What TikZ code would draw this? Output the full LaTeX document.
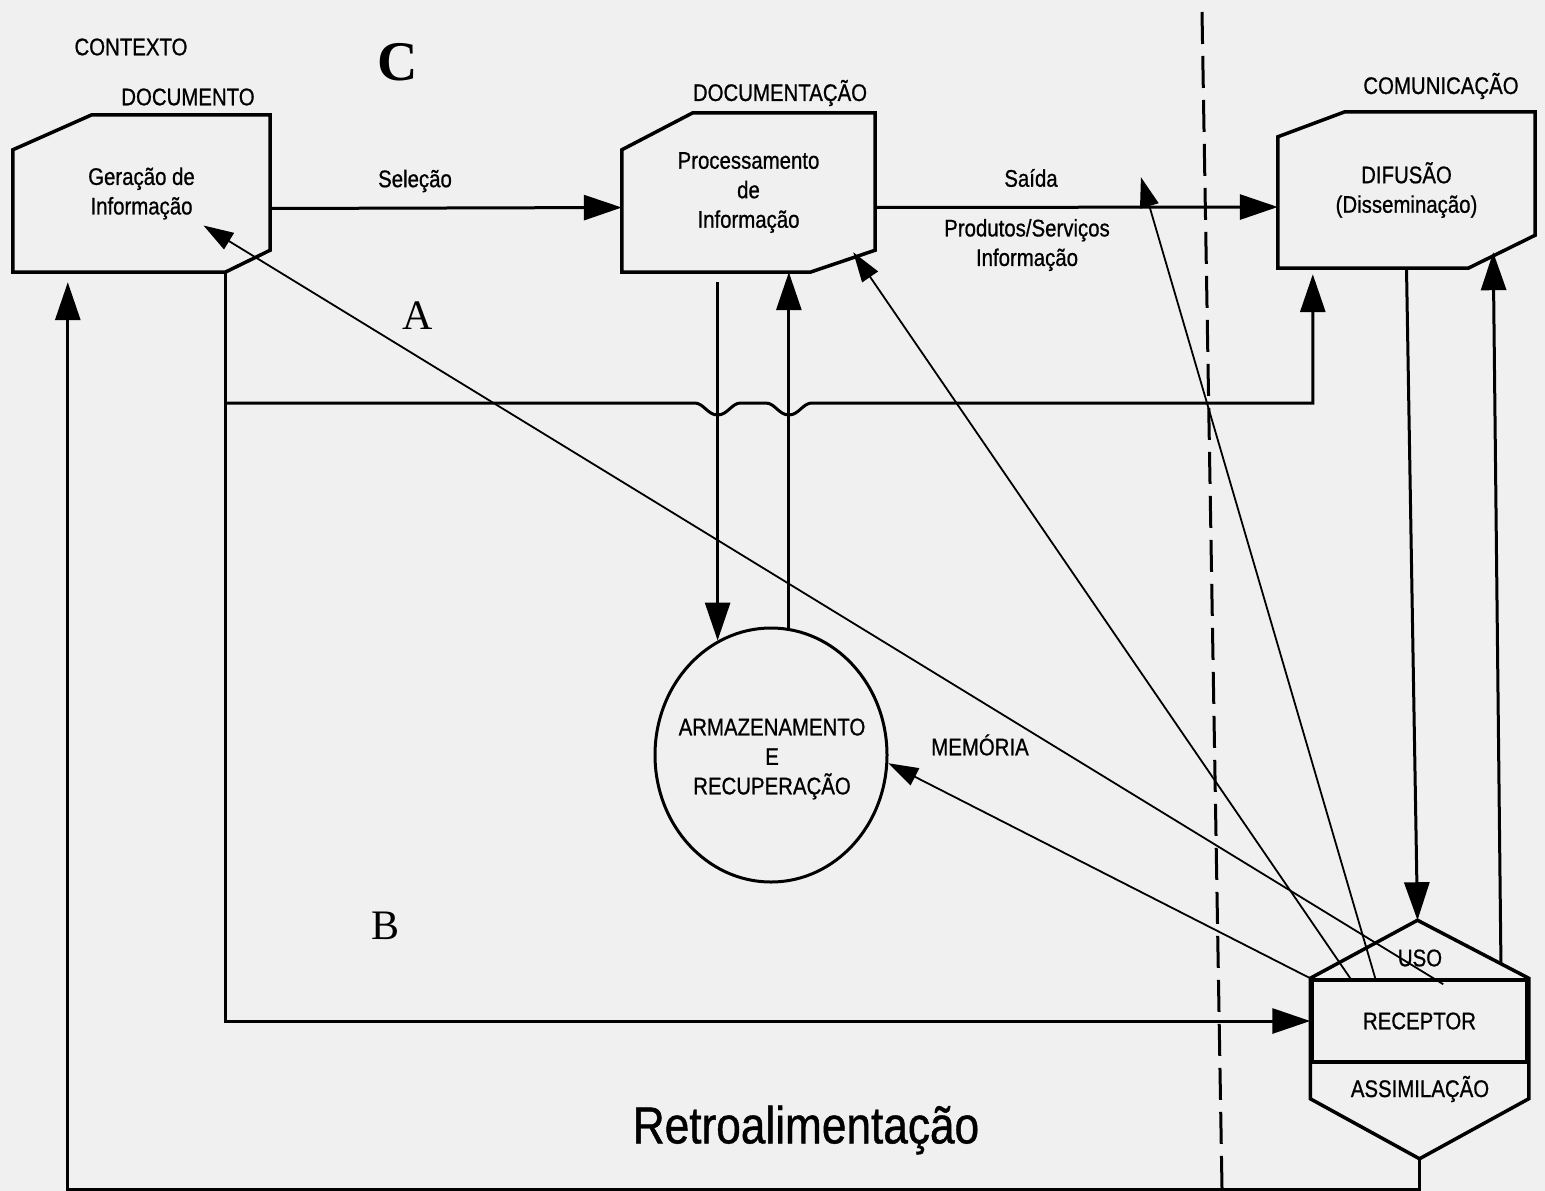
\documentclass[tikz,border=0pt]{standalone}
\usepackage{fontspec}
\setmainfont{Liberation Serif}
\newfontfamily\estreita[FakeStretch=0.85,FakeBold=0.8]{Liberation Sans}
\usetikzlibrary{positioning,arrows.meta,calc,shapes.geometric}
\newcommand{\rotulofonte}{\estreita\fontsize{24}{29.5}\selectfont}
\tikzset{
  caixa/.style={inner sep=0pt, align=center, font=\rotulofonte},
  contorno/.style={line width=3.5pt, line join=miter},
  rot/.style={inner sep=1pt, align=center, font=\rotulofonte},
  letra/.style={inner sep=0pt, font=\fontsize{42}{42}\selectfont},
  seta/.style={line width=3pt, -{Triangle[length=38pt,width=25pt]}},
  fina/.style={line width=1.8pt, -{Triangle[length=30pt,width=19pt]}},
  tracejada/.style={line width=3pt, dash pattern=on 32pt off 12pt},
}

\begin{document}
\begin{tikzpicture}[x=1pt, y=-1pt]
\fill[black!6] (0,0) rectangle (1545,1191);
\useasboundingbox (0,0) rectangle (1545,1191);

% caixas principais
\node[caixa, minimum width=257pt, minimum height=157pt] (gera) at (141.5,193.5) {Geração de\\Informação};
\node[caixa, minimum width=253pt, minimum height=159pt] (proc) at (748.5,192.5) {Processamento\\de\\Informação};
\node[caixa, minimum width=257pt, minimum height=156pt] (difus) at (1406.5,190) {DIFUSÃO\\(Disseminação)};
\foreach \n/\a/\b/\c/\d in {gera/79/35/45/22, proc/71/37/65/22, difus/67/25/67/33}
  \draw[contorno] ($(\n.north west)+(0,\b)$) -- ($(\n.north west)+(\a,0)$) -- (\n.north east)
    -- ($(\n.south east)+(0,-\d)$) -- ($(\n.south east)+(-\c,0)$) -- (\n.south west) -- cycle;
\node[caixa, ellipse, draw, line width=3pt, minimum width=232pt, minimum height=254pt] (armaz) at (771,755) {};
\node[caixa] (armaztxt) at ($(armaz.center)+(1,4)$) {ARMAZENAMENTO\\E\\RECUPERAÇÃO};
\node[caixa, draw, line width=3.5pt, minimum width=215pt, minimum height=82pt] (receptor) at (1419.5,1021) {RECEPTOR};
\draw[contorno] (receptor.north west) -- ($(receptor.north)+(-2,-58)$) coordinate (topo) -- (receptor.north east)
  -- ($(receptor.south east)+(0,35)$) -- ($(receptor.south)+(0,95)$) coordinate (base)
  -- ($(receptor.south west)+(0,35)$) -- cycle;

% rotulos
\node[rot] (contexto) at (131,47) {CONTEXTO};
\node[rot] (documento) at (188,97) {DOCUMENTO};
\node[rot] (documentacao) at (780,93) {DOCUMENTAÇÃO};
\node[rot] (comunicacao) at (1441,86) {COMUNICAÇÃO};
\node[rot] (selecao) at (415,181) {Seleção};
\node[rot] (saida) at (1031,178) {Saída};
\node[rot] (produtos) at (1027,245) {Produtos/Serviços\\Informação};
\node[rot] (memoria) at (980,745) {MEMÓRIA};
\node[rot] (uso) at (1420,958) {USO};
\node[rot] (assim) at (1420,1089) {ASSIMILAÇÃO};
\node[rot, font=\estreita\fontsize{52}{52}\selectfont] (retro) at (806,1130) {Retroalimentação};
\node[letra, font=\fontsize{56}{56}\selectfont\bfseries] (letraC) at (398,62) {C};
\node[letra] (letraA) at (418,316) {A};
\node[letra] (letraB) at (386,926) {B};

% ligacoes
\draw[seta] ($(gera.east)+(0,15)$) -- ($(proc.west)+(0,15)$);
\draw[seta] ($(proc.east)+(0,15)$) -- coordinate[pos=0.66] (saidapt) ($(difus.west)+(0,17)$);
\draw[seta, shorten <=10pt] (armaz.115 |- proc.south) -- (armaz.115);
\draw[seta] (armaz.82) -- (armaz.82 |- proc.south);
\coordinate (ramo) at ($(gera.south east)+(-45,0)$);
\draw[seta] (ramo) |- (receptor.west);
\draw[seta] (ramo |- 0,403) -- ($(armaz.115 |- 0,403)+(-23,0)$)
  .. controls +(9,0) and +(-10,0) .. ($(armaz.115 |- 0,403)+(0,12)$)
  .. controls +(10,0) and +(-9,0) .. ($(armaz.115 |- 0,403)+(23,0)$)
  -- ($(armaz.82 |- 0,403)+(-23,0)$)
  .. controls +(9,0) and +(-10,0) .. ($(armaz.82 |- 0,403)+(0,12)$)
  .. controls +(10,0) and +(-9,0) .. ($(armaz.82 |- 0,403)+(23,0)$)
  -- ($(difus.south west)+(35,135)$) -- ($(difus.south west)+(35,6)$);
\draw[seta] (base) -- ++(0,31) -| ($(gera.south west)+(55,10)$);
\draw[seta] (difus.south) -- (topo);
\draw[seta] ($(topo)!0.75!(receptor.north east)$) -- ($(difus.south east)+(-42,-16)$);
\draw[fina] ($(receptor.north west)+(65,0)$) -- ($(saidapt)+(0,-30)$);
\draw[fina] ($(receptor.north west)+(40,0)$) -- ($(proc.south east)+(-22,-20)$);
\draw[fina] ($(receptor.north west)+(133,6)$) -- ($(gera.center)+(62,32)$);
\draw[fina] (receptor.north west) -- (armaz.-4);
\draw[tracejada] (1202,12) -- (1222,1188);
\end{tikzpicture}
\end{document}
